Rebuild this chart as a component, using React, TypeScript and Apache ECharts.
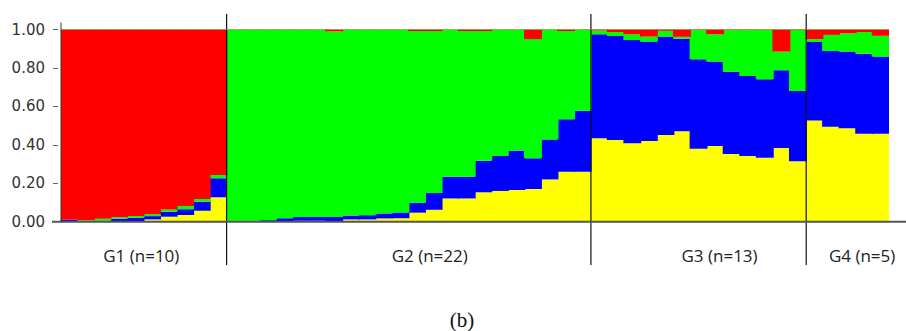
import React, { useEffect, useRef } from "react";
import * as echarts from "echarts";

// ---- data ----
const groupNames = ["G1 (n=10)", "G2 (n=22)", "G3 (n=13)", "G4 (n=5)"];
const groupSizes = [10, 22, 13, 5];

const categories: string[] = [];
groupSizes.forEach((n, g) => {
  for (let i = 1; i <= n; i++) categories.push(`G${g + 1}-${i}`);
});

// ancestry proportions per individual (cluster order: yellow, blue, green, red)
const yellow = [
  0, 0, 0, 0, 0, 0.012, 0.026, 0.035, 0.057, 0.127,
  0, 0, 0, 0.003, 0.005, 0.005, 0, 0.012, 0.012, 0.017, 0.018, 0.047, 0.062, 0.121, 0.121, 0.153, 0.16, 0.165, 0.17, 0.22, 0.26, 0.26,
  0.434, 0.425, 0.408, 0.42, 0.451, 0.47, 0.38, 0.394, 0.352, 0.342, 0.333, 0.383, 0.314,
  0.527, 0.494, 0.486, 0.458, 0.458,
];
const blue = [
  0.012, 0.005, 0.005, 0.015, 0.02, 0.017, 0.026, 0.03, 0.047, 0.099,
  0.005, 0.005, 0.008, 0.015, 0.02, 0.02, 0.025, 0.02, 0.022, 0.026, 0.03, 0.052, 0.087, 0.113, 0.113, 0.164, 0.182, 0.205, 0.16, 0.208, 0.273, 0.317,
  0.541, 0.541, 0.537, 0.517, 0.512, 0.482, 0.465, 0.439, 0.428, 0.416, 0.408, 0.405, 0.366,
  0.408, 0.394, 0.399, 0.416, 0.401,
];
const green = [
  0, 0.004, 0.01, 0.008, 0.01, 0.01, 0.012, 0.017, 0.014, 0.017,
  0.995, 0.995, 0.992, 0.982, 0.975, 0.975, 0.965, 0.968, 0.966, 0.957, 0.952, 0.893, 0.843, 0.766, 0.758, 0.675, 0.658, 0.63, 0.62, 0.572, 0.459, 0.423,
  0.02, 0.021, 0.03, 0.026, 0.03, 0.01, 0.152, 0.142, 0.217, 0.239, 0.257, 0.097, 0.317,
  0.015, 0.084, 0.095, 0.113, 0.108,
];
const red = [
  0.988, 0.991, 0.985, 0.977, 0.97, 0.961, 0.936, 0.918, 0.882, 0.757,
  0, 0, 0, 0, 0, 0, 0.01, 0, 0, 0, 0, 0.008, 0.008, 0, 0.008, 0.008, 0, 0, 0.05, 0, 0.008, 0,
  0.005, 0.013, 0.025, 0.037, 0.007, 0.038, 0.003, 0.025, 0.003, 0.003, 0.002, 0.115, 0.003,
  0.05, 0.028, 0.02, 0.013, 0.033,
];
const yTicks = [0, 0.2, 0.4, 0.6, 0.8, 1.0];

// ---- layout ----
const W = 906;
const H = 331;
const labelOffsets = [-2.5, 21, 21, 14.5];

export default function App() {
  const ref = useRef<HTMLDivElement>(null);
  useEffect(() => {
    if (!ref.current) return;
    const chart = echarts.init(ref.current, undefined, { renderer: "svg" });
    const mk = (name: string, data: number[], color: string) => ({
      name,
      type: "bar",
      stack: "q",
      data,
      barWidth: "108%",
      itemStyle: { color },
      emphasis: { disabled: true },
    });
    chart.setOption({
      animation: false,
      backgroundColor: "#ffffff",
      grid: { left: 61, right: 17, top: 29.5, bottom: 109.3 },
      xAxis: {
        type: "category",
        data: categories,
        axisLine: { show: false },
        axisTick: { show: false },
        axisLabel: { show: false },
      },
      yAxis: {
        type: "value",
        min: yTicks[0],
        max: yTicks[yTicks.length - 1],
        interval: 0.2,
        splitLine: { show: false },
        axisLine: { show: true, lineStyle: { color: "#333", width: 1 } },
        axisTick: { show: true, length: 8, lineStyle: { color: "#666" } },
        axisLabel: {
          margin: 16,
          fontFamily: "DejaVu Sans",
          fontSize: 15,
          color: "#333",
          formatter: (v: number) => v.toFixed(2),
        },
      },
      series: [
        mk("yellow", yellow, "#ffff00"),
        mk("blue", blue, "#0000ff"),
        mk("green", green, "#00ff00"),
        mk("red", red, "#ff0000"),
      ],
    });

    const p0 = chart.convertToPixel({ xAxisIndex: 0 }, 0) as number;
    const p1 = chart.convertToPixel({ xAxisIndex: 0 }, 1) as number;
    const bw = p1 - p0;
    const left = p0 - bw / 2;
    const total = categories.length;
    const yTop = chart.convertToPixel({ yAxisIndex: 0 }, 1) as number;
    const yBot = chart.convertToPixel({ yAxisIndex: 0 }, 0) as number;

    const graphics: any[] = [];
    // white masks to trim the slight bar overhang at the plot's outer edges
    graphics.push({
      type: "rect",
      z: 90,
      shape: { x: left - 3, y: yTop - 1, width: 3, height: yBot - yTop + 2 },
      style: { fill: "#fff" },
    });
    graphics.push({
      type: "rect",
      z: 90,
      shape: { x: left + bw * total, y: yTop - 1, width: 4, height: yBot - yTop + 2 },
      style: { fill: "#fff" },
    });
    let cum = 0;
    groupSizes.forEach((n, g) => {
      const cx = left + bw * (cum + n / 2) + labelOffsets[g];
      graphics.push({
        type: "text",
        z: 100,
        style: {
          text: groupNames[g],
          x: cx,
          y: 255,
          textAlign: "center",
          textVerticalAlign: "middle",
          fontFamily: "Open Sans",
          fontSize: 17,
          fill: "#222",
        },
      });
      cum += n;
      if (g < groupSizes.length - 1) {
        const bx = left + bw * cum;
        graphics.push({
          type: "line",
          z: 100,
          shape: { x1: bx, y1: 14, x2: bx, y2: 265 },
          style: { stroke: "#111", lineWidth: 1.2 },
        });
      }
    });
    graphics.push({
      type: "line",
      z: 100,
      shape: { x1: left - 9, y1: yBot, x2: W, y2: yBot },
      style: { stroke: "#555", lineWidth: 2 },
    });
    graphics.push({
      type: "line",
      z: 100,
      shape: { x1: left, y1: 22.5, x2: left, y2: yBot },
      style: { stroke: "#333", lineWidth: 1 },
    });
    graphics.push({
      type: "line",
      z: 100,
      shape: { x1: left, y1: yTop, x2: left + bw * total, y2: yTop },
      style: { stroke: "#9b8f4a", lineWidth: 1, opacity: 0.7 },
    });
    graphics.push({
      type: "text",
      z: 100,
      style: {
        text: "(b)",
        x: 462,
        y: 320,
        textAlign: "center",
        textVerticalAlign: "middle",
        fontFamily: "Liberation Serif",
        fontSize: 21,
        fill: "#111",
      },
    });
    chart.setOption({ graphic: graphics });

    return () => chart.dispose();
  }, []);
  return (
    <div
      ref={ref}
      style={{ position: "fixed", left: 0, top: 0, width: W, height: H, background: "#fff" }}
    />
  );
}
